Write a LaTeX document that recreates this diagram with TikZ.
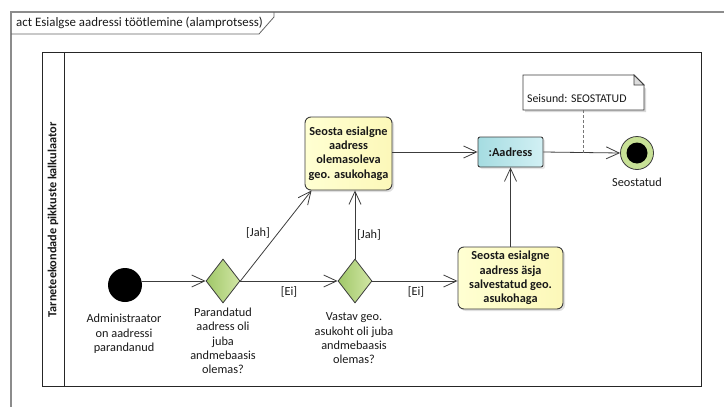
\documentclass[tikz,border=0pt]{standalone}
\usepackage{fontspec}
\setmainfont{Carlito}
\usetikzlibrary{arrows.meta,shapes.geometric,shadows,calc}

\definecolor{framegray}{RGB}{140,140,140}
\definecolor{inkline}{RGB}{60,60,60}
\definecolor{txt}{RGB}{25,25,25}
\definecolor{actL}{RGB}{255,255,210}
\definecolor{actR}{RGB}{252,248,185}
\definecolor{decL}{RGB}{160,200,105}
\definecolor{decR}{RGB}{210,230,165}
\definecolor{objL}{RGB}{165,220,225}
\definecolor{objR}{RGB}{210,240,244}
\definecolor{ringgreen}{RGB}{200,225,150}
\definecolor{foldgray}{RGB}{220,220,220}

\tikzset{
  base/.style={font=\fontsize{12.3}{14.3}\selectfont, text=txt},
  action/.style={base, draw=inkline, line width=0.9pt, rounded corners=6pt,
    left color=actL, right color=actR, align=center, inner sep=2pt,
    font=\fontsize{12.3}{14.3}\selectfont\bfseries,
    drop shadow={shadow xshift=2pt, shadow yshift=-2pt, opacity=0.25}},
  objectbox/.style={base, draw=inkline, line width=0.9pt, rounded corners=2pt,
    left color=objL, right color=objR, font=\fontsize{12.3}{14.3}\selectfont\bfseries,
    drop shadow={shadow xshift=2pt, shadow yshift=-2pt, opacity=0.2}},
  decision/.style={diamond, draw=inkline, line width=0.8pt, left color=decL,
    right color=decR, inner sep=0pt, minimum width=34pt, minimum height=44pt},
  startnode/.style={circle, fill=black, inner sep=0pt, minimum size=34pt},
  endring/.style={circle, draw=inkline, line width=0.8pt, fill=ringgreen,
    inner sep=0pt, minimum size=33pt},
  endcore/.style={circle, fill=black, inner sep=0pt, minimum size=21pt},
  caption/.style={base, align=center, inner sep=0pt},
  guard/.style={base, inner sep=0pt},
  flow/.style={draw=inkline, line width=0.8pt,
    -{Straight Barb[length=13pt, width=12pt, line width=0.8pt]}},
}

\begin{document}
\begin{tikzpicture}[x=1pt, y=-1pt]
\useasboundingbox (0,0) rectangle (724,407);

% diagram frame and its name tab
\draw[framegray, line width=1.3pt] (11,407) -- (11,12) -- (724,12);
\draw[inkline!80, line width=0.8pt] (11,34) -- (259,34) -- (274,17) -- (274,12);
\node[base, anchor=west, inner sep=0pt, font=\fontsize{12.9}{14}\selectfont] (title)
  at (16,23) {act Esialgse aadressi töötlemine (alamprotsess)};

% swimlane
\draw[black!85, line width=1pt] (42,52) rectangle (701,386);
\draw[black!85, line width=1pt] (64,52) -- (64,386);
\node[base, rotate=90, font=\fontsize{12.3}{14}\selectfont\bfseries] (lane)
  at (53,220) {Tarneteekondade pikkuste kalkulaator};

% nodes
\node[startnode] (start) at (125,285) {};
\node[caption] (startlbl) at (124,334) {Administraator\\on aadressi\\parandanud};

\node[decision] (d1) at (223,281) {};
\node[caption] (d1lbl) at (223,341) {Parandatud\\aadress oli\\juba\\andmebaasis\\olemas?};

\node[decision] (d2) at (355,281) {};
\node[caption] (d2lbl) at (354,338.5) {Vastav geo.\\asukoht oli juba\\andmebaasis\\olemas?};

\node[action, minimum width=87pt, minimum height=73pt] (act1)
  at (348.5,153.5) {Seosta esialgne\\aadress\\olemasoleva\\geo. asukohaga};

\node[action, minimum width=105pt, minimum height=62pt] (act2)
  at (510.5,278) {Seosta esialgne\\aadress äsja\\salvestatud geo.\\asukohaga};

\node[objectbox, minimum width=65pt, minimum height=30pt] (obj) at (510.5,152) {:Aadress};

\node[endring] (final) at (637,153) {};
\node[endcore] at (final) {};
\node[caption] (finallbl) at (637,182) {Seostatud};

% note with folded corner
\fill[black, opacity=0.15] (525,77) -- (634,77) -- (646,89) -- (646,112) -- (525,112) -- cycle;
\draw[inkline, line width=0.8pt, fill=white]
  (523,75) -- (634,75) -- (644,85) -- (644,110) -- (523,110) -- cycle;
\draw[inkline, line width=0.8pt, fill=foldgray] (634,75) -- (634,85) -- (644,85) -- cycle;
\node[base, anchor=west, inner sep=0pt, font=\fontsize{11.8}{14}\selectfont] (note)
  at (527,98) {Seisund: SEOSTATUD};
\coordinate (notefoot) at (583.5,110);

% control flows
\draw[flow] (start.east |- d1) -- (d1.west);
\draw[flow] (d1.east) -- ($(act1.south west)+(7,0)$);
\draw[flow] (d1.east) -- (d2.west);
\draw[flow] (d2.north) -- (d2.north |- act1.south);
\draw[flow] (d2.east) -- (act2.west |- d2);
\draw[flow] (act1.east |- obj) -- (obj.west);
\draw[flow] (act2.north) -- (act2.north |- obj.south);
\draw[flow] (obj.east) -- (final.west);
\coordinate (notejoin) at (583.5,153);
\draw[inkline!70, line width=0.8pt, dash pattern=on 3pt off 2pt] (notefoot) -- (notejoin);

% guards
\node[guard] (g1) at (258,233) {[Jah]};
\node[guard] (g2) at (289,292) {[Ei]};
\node[guard] (g3) at (369,235) {[Jah]};
\node[guard] (g4) at (416,292) {[Ei]};
\end{tikzpicture}
\end{document}
